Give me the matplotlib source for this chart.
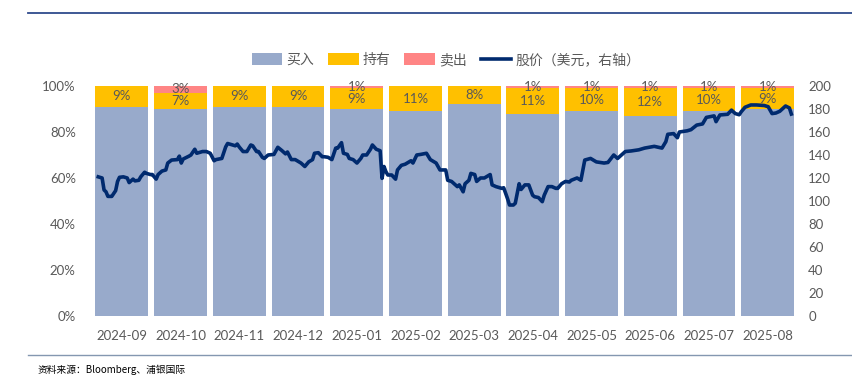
import numpy as np
import pandas as pd
import matplotlib.pyplot as plt
from matplotlib.lines import Line2D

months = ['2024-09', '2024-10', '2024-11', '2024-12', '2025-01', '2025-02',
          '2025-03', '2025-04', '2025-05', '2025-06', '2025-07', '2025-08']
buy = np.array([91, 90, 91, 91, 90, 89, 92, 88, 89, 87, 89, 90])
hold = np.array([9, 7, 9, 9, 9, 11, 8, 11, 10, 12, 10, 9])
sell = np.array([0, 3, 0, 0, 1, 0, 0, 1, 1, 1, 1, 1])

# share price (USD), days counted from 2024-09-01
price_days = [3, 5, 6, 7, 8, 10, 12, 13, 14, 16, 18, 19, 21, 22, 24, 25, 27, 28,
              30, 31, 33, 34, 36, 38, 39, 41, 44, 45, 46, 47, 50, 51, 53, 54,
              57, 59, 61, 63, 64, 67, 69, 70, 72, 74, 75, 76, 78, 80, 82, 83,
              85, 86, 88, 89, 91, 94, 96, 98, 100, 101, 103, 105, 107, 108,
              110, 112, 114, 115, 117, 119, 120, 122, 124, 126, 127, 129, 130,
              132, 133, 135, 137, 139, 140, 142, 144, 145, 147, 149, 150, 151,
              152, 153, 155, 157, 158, 160, 162, 165, 166, 168, 170, 173, 175,
              177, 178, 180, 183, 184, 186, 189, 190, 192, 193, 195, 196, 198,
              199, 201, 203, 206, 207, 209, 212, 213, 215, 216, 218, 219, 221,
              222, 224, 226, 228, 229, 231, 233, 234, 236, 238, 240, 241, 243,
              245, 247, 248, 251, 253, 255, 258, 261, 265, 267, 270, 272, 273,
              276, 279, 283, 286, 291, 295, 297, 298, 301, 303, 304, 308, 310,
              313, 316, 318, 322, 323, 325, 329, 331, 333, 335, 336, 338, 341,
              344, 348, 350, 352, 354, 356, 359, 361, 362]
price = [121, 120, 109.6, 108, 104, 104, 109, 117, 120.6, 121, 120, 116, 119,
         117.5, 118, 121, 125, 124, 123, 123, 119, 123, 126, 127, 133, 135.6,
         136, 139, 133, 136.5, 139, 140, 145, 141.5, 143, 143, 141.5, 135, 136,
         137, 147, 150, 149, 148, 149.5, 147, 143, 143, 148.7, 148, 143, 143,
         138, 137, 140, 140.5, 146.7, 144, 141, 142.6, 136, 136, 134, 133, 130,
         134, 136, 141.5, 142, 138.5, 138.5, 138, 136, 146, 146, 150.7, 141.5,
         140.5, 137, 136, 133, 137, 140, 140, 145, 148.7, 145, 143.7, 119.7,
         130, 125.5, 122.6, 122.6, 119, 127, 131, 132, 135, 133, 140, 140.5,
         141.5, 136, 134, 133, 127, 127, 118, 117, 112.5, 114, 108, 115, 118,
         124, 123, 117, 120, 120, 123, 114, 112.5, 111, 111.5, 102, 96.5, 96.5,
         98, 115, 110, 114, 114, 105, 103.7, 103, 99.4, 105, 112.5, 112.5, 111,
         111, 115, 117, 116.5, 118, 120, 118, 135.6, 137, 134, 133, 133.5, 140,
         137, 138.5, 143, 143.5, 144.5, 146, 147.5, 146, 151.6, 158, 158.6, 155,
         160, 161, 162, 166, 167, 172.7, 174, 169, 174.8, 175.4, 179, 176, 175,
         177.5, 181.5, 183.5, 183.5, 183, 182, 176, 176.5, 178, 182.6, 180.9,
         175.6]

c_buy = '#98AACB'
c_hold = '#FFC000'
c_sell = '#FF8585'
c_price = '#002A6E'
c_text = '#595959'
cjk = ['Noto Sans CJK SC', 'DejaVu Sans']

plt.rcParams['font.family'] = ['Lato', 'DejaVu Sans']

fig = plt.figure(figsize=(8.53, 3.82), dpi=100)
ax = fig.add_axes([0.1084, 0.1728, 0.8261, 0.6021])
x = np.arange(len(months))

b1 = ax.bar(x, buy, width=0.9, color=c_buy, label='买入')
b2 = ax.bar(x, hold, bottom=buy, width=0.9, color=c_hold, label='持有')
b3 = ax.bar(x, sell, bottom=buy + hold, width=0.9, color=c_sell, label='卖出')

for i in x:
    ax.text(i, buy[i] + hold[i] / 2, f'{hold[i]}%', ha='center', va='center',
            fontsize=9.5, color=c_text, clip_on=False)
    if sell[i] > 0:
        ax.text(i, buy[i] + hold[i] + sell[i] / 2, f'{sell[i]}%', ha='center',
                va='center', fontsize=9.5, color=c_text, clip_on=False)

ax.set_xlim(-0.5, len(months) - 0.5)
ax.set_ylim(0, 100)
ax.set_xticks(x)
ax.set_xticklabels(months)
ax.set_yticks(np.arange(0, 101, 20))
ax.set_yticklabels([f'{v}%' for v in range(0, 101, 20)])
ax.tick_params(axis='x', length=0, pad=10, labelsize=9.5, labelcolor=c_text)
ax.tick_params(axis='y', length=0, pad=12, labelsize=9.5, labelcolor=c_text)

# price line on a secondary axis spanning the whole year
ax2 = ax.twinx()
dates = pd.Timestamp('2024-09-01') + pd.to_timedelta(price_days, unit='D')
pos = -0.5 + len(months) * (dates - pd.Timestamp('2024-09-01')).days / 365
l1, = ax2.plot(pos, price, color=c_price, lw=2.6, label='股价（美元，右轴）')
ax2.set_ylim(0, 200)
ax2.set_yticks(np.arange(0, 201, 20))
ax2.tick_params(axis='y', length=0, pad=8, labelsize=9.5, labelcolor=c_text)

for a in (ax, ax2):
    for s in a.spines.values():
        s.set_visible(False)

fig.legend(handles=[b1, b2, b3, l1], loc='center',
           bbox_to_anchor=(446 / 853, 1 - 60 / 382), ncol=4, frameon=False,
           prop={'family': cjk, 'size': 10}, labelcolor=c_text,
           handlelength=2.2, handleheight=0.9, handletextpad=0.3,
           columnspacing=1.0)

fig.add_artist(Line2D([28 / 853, 1], [1 - 13 / 382] * 2, color='#2F4B8C', lw=1.3))
fig.add_artist(Line2D([28 / 853, 1], [1 - 355 / 382] * 2, color='#8497B0', lw=1.0))
fig.text(38 / 853, 1 - 370 / 382, '资料来源：Bloomberg、浦银国际', fontsize=7,
         family=cjk, va='center', color='#000000')

plt.savefig('out.png', dpi=100)
